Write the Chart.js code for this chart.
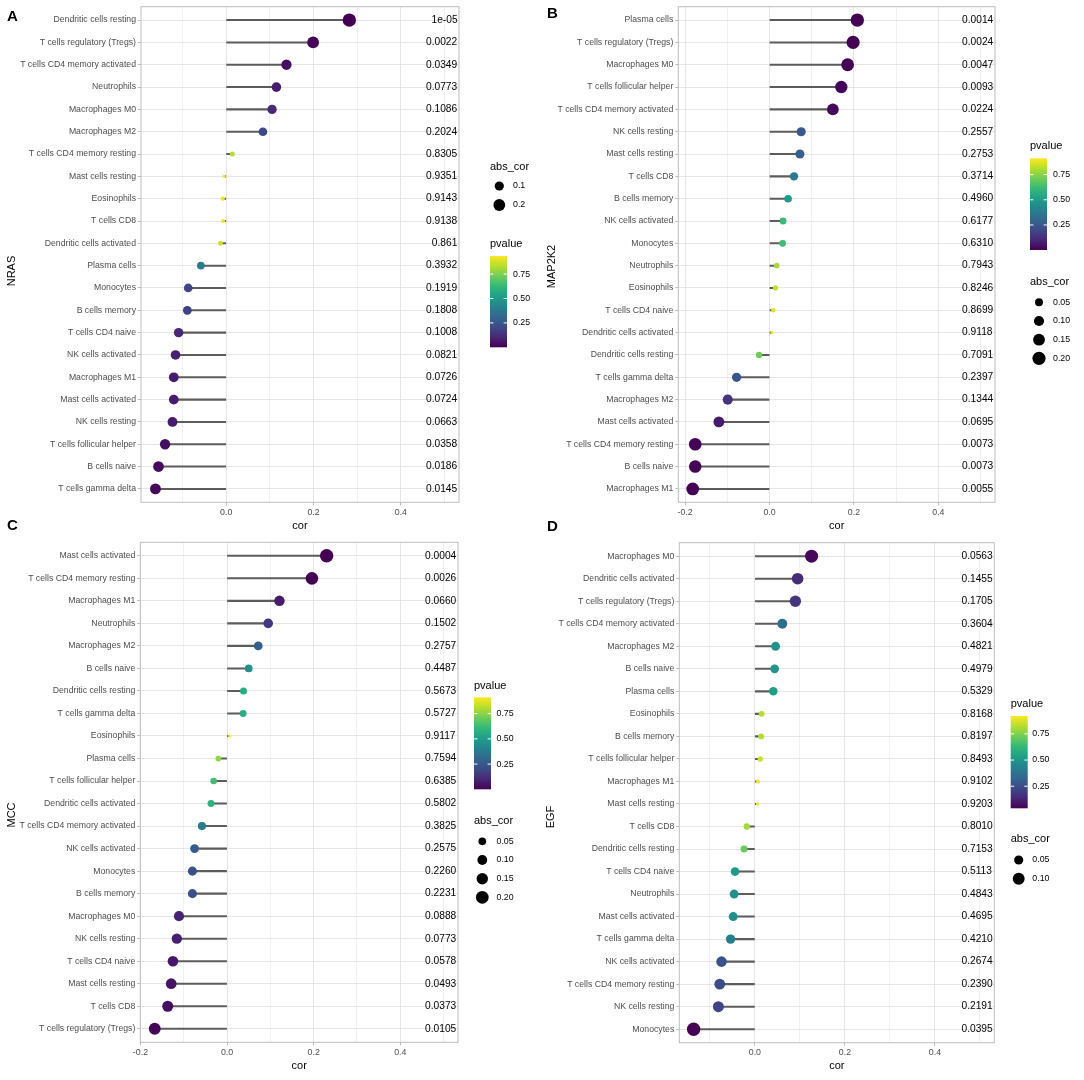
<!DOCTYPE html>
<html>
<head>
<meta charset="utf-8">
<script src="https://cdn.jsdelivr.net/npm/chart.js@4/dist/chart.umd.min.js"></script>
<style>
  html, body { margin: 0; padding: 0; background: #fff; }
  #wrap { position: relative; width: 1084px; height: 1080px; overflow: hidden; }
  #wrap canvas { position: absolute; }
</style>
</head>
<body>
<div id="wrap">
  <canvas id="pA"></canvas>
  <canvas id="pB"></canvas>
  <canvas id="pC"></canvas>
  <canvas id="pD"></canvas>
</div>
<script>
// ---- data ----
const catsA = ["Dendritic cells resting", "T cells regulatory (Tregs)", "T cells CD4 memory activated", "Neutrophils",
  "Macrophages M0", "Macrophages M2", "T cells CD4 memory resting", "Mast cells resting", "Eosinophils", "T cells CD8",
  "Dendritic cells activated", "Plasma cells", "Monocytes", "B cells memory", "T cells CD4 naive", "NK cells activated",
  "Macrophages M1", "Mast cells activated", "NK cells resting", "T cells follicular helper", "B cells naive", "T cells gamma delta"];
const corA = [0.282, 0.199, 0.138, 0.115, 0.105, 0.084, 0.014, -0.005, -0.008, -0.007, -0.013,
  -0.058, -0.087, -0.089, -0.109, -0.116, -0.120, -0.120, -0.123, -0.140, -0.155, -0.162];
const pA = ["1e-05", "0.0022", "0.0349", "0.0773", "0.1086", "0.2024", "0.8305", "0.9351", "0.9143", "0.9138", "0.861",
  "0.3932", "0.1919", "0.1808", "0.1008", "0.0821", "0.0726", "0.0724", "0.0663", "0.0358", "0.0186", "0.0145"];

const catsB = ["Plasma cells", "T cells regulatory (Tregs)", "Macrophages M0", "T cells follicular helper",
  "T cells CD4 memory activated", "NK cells resting", "Mast cells resting", "T cells CD8", "B cells memory",
  "NK cells activated", "Monocytes", "Neutrophils", "Eosinophils", "T cells CD4 naive", "Dendritic cells activated",
  "Dendritic cells resting", "T cells gamma delta", "Macrophages M2", "Mast cells activated",
  "T cells CD4 memory resting", "B cells naive", "Macrophages M1"];
const corB = [0.208, 0.198, 0.185, 0.170, 0.150, 0.075, 0.072, 0.058, 0.044, 0.032, 0.031,
  0.017, 0.014, 0.009, 0.006, -0.025, -0.078, -0.099, -0.120, -0.176, -0.176, -0.182];
const pB = ["0.0014", "0.0024", "0.0047", "0.0093", "0.0224", "0.2557", "0.2753", "0.3714", "0.4960", "0.6177", "0.6310",
  "0.7943", "0.8246", "0.8699", "0.9118", "0.7091", "0.2397", "0.1344", "0.0695", "0.0073", "0.0073", "0.0055"];

const catsC = ["Mast cells activated", "T cells CD4 memory resting", "Macrophages M1", "Neutrophils", "Macrophages M2",
  "B cells naive", "Dendritic cells resting", "T cells gamma delta", "Eosinophils", "Plasma cells",
  "T cells follicular helper", "Dendritic cells activated", "T cells CD4 memory activated", "NK cells activated",
  "Monocytes", "B cells memory", "Macrophages M0", "NK cells resting", "T cells CD4 naive", "Mast cells resting",
  "T cells CD8", "T cells regulatory (Tregs)"];
const corC = [0.230, 0.196, 0.121, 0.095, 0.072, 0.050, 0.038, 0.037, 0.006, -0.020, -0.031,
  -0.037, -0.058, -0.075, -0.080, -0.080, -0.111, -0.116, -0.125, -0.129, -0.137, -0.167];
const pC = ["0.0004", "0.0026", "0.0660", "0.1502", "0.2757", "0.4487", "0.5673", "0.5727", "0.9117", "0.7594", "0.6385",
  "0.5802", "0.3825", "0.2575", "0.2260", "0.2231", "0.0888", "0.0773", "0.0578", "0.0493", "0.0373", "0.0105"];

const catsD = ["Macrophages M0", "Dendritic cells activated", "T cells regulatory (Tregs)", "T cells CD4 memory activated",
  "Macrophages M2", "B cells naive", "Plasma cells", "Eosinophils", "B cells memory", "T cells follicular helper",
  "Macrophages M1", "Mast cells resting", "T cells CD8", "Dendritic cells resting", "T cells CD4 naive", "Neutrophils",
  "Mast cells activated", "T cells gamma delta", "NK cells activated", "T cells CD4 memory resting", "NK cells resting",
  "Monocytes"];
const corD = [0.126, 0.095, 0.090, 0.061, 0.046, 0.044, 0.041, 0.015, 0.014, 0.012, 0.007,
  0.006, -0.018, -0.024, -0.044, -0.046, -0.048, -0.054, -0.074, -0.078, -0.081, -0.136];
const pD = ["0.0563", "0.1455", "0.1705", "0.3604", "0.4821", "0.4979", "0.5329", "0.8168", "0.8197", "0.8493", "0.9102",
  "0.9203", "0.8010", "0.7153", "0.5113", "0.4843", "0.4695", "0.4210", "0.2674", "0.2390", "0.2191", "0.0395"];

const xTicks = [-0.2, -0.1, 0, 0.1, 0.2, 0.3, 0.4, 0.5];
const colourbarTicks = [0.25, 0.5, 0.75];
const TEXT_X = 0.5; // p-value labels sit at cor = 0.5

// ---- styling helpers ----
const FONT = '"Liberation Sans", Arial, Helvetica, sans-serif';
Chart.defaults.font.family = FONT;

const VIRIDIS = ["#440154", "#482878", "#3E4A89", "#31688E", "#26828E", "#1F9E89", "#35B779", "#6DCD59", "#B4DE2C", "#FDE725"];
const VIR_RGB = VIRIDIS.map((h) => [1, 3, 5].map((k) => parseInt(h.slice(k, k + 2), 16)));

function viridis(t) {
  t = Math.max(0, Math.min(1, t));
  const pos = t * (VIR_RGB.length - 1);
  const i = Math.min(Math.floor(pos), VIR_RGB.length - 2);
  const f = pos - i;
  const c = VIR_RGB[i].map((v, k) => Math.round(v + (VIR_RGB[i + 1][k] - v) * f));
  return `rgb(${c[0]},${c[1]},${c[2]})`;
}

const isMajor = (v) => Math.abs(Math.round(v * 10)) % 2 === 0;

function makePanel(id, cats, cor, pLabels, lay) {
  const canvas = document.getElementById(id);
  canvas.width = lay.w;
  canvas.height = lay.h;
  canvas.style.left = lay.ox + "px";
  canvas.style.top = lay.oy + "px";

  const pv = pLabels.map(Number);
  const pMin = Math.min(...pv), pMax = Math.max(...pv);
  const abs = cor.map(Math.abs);
  const aMin = Math.min(...abs), aMax = Math.max(...abs);
  const radius = (a) => 1.6 + 5.1 * Math.sqrt(Math.max(0, (a - aMin) / (aMax - aMin)));
  const colour = (p) => viridis((p - pMin) / (pMax - pMin));

  const lo = Math.min(0, ...cor), hi = TEXT_X;
  const ex = (hi - lo) * 0.05;
  const n = cats.length;

  const L = (x) => x - lay.ox, T = (y) => y - lay.oy;
  const plot = { l: L(lay.plot.l), r: L(lay.plot.r), t: T(lay.plot.t), b: T(lay.plot.b) };

  const deco = {
    id: "deco" + id,
    afterDatasetsDraw(chart) {
      const { ctx, chartArea: a, scales } = chart;
      ctx.save();
      ctx.beginPath();
      ctx.rect(a.left, a.top, a.right - a.left, a.bottom - a.top);
      ctx.clip();
      ctx.fillStyle = "#000";
      ctx.font = `10.2px ${FONT}`;
      ctx.textBaseline = "middle";
      const xt = scales.x.getPixelForValue(TEXT_X);
      pLabels.forEach((s, i) => {
        const y = scales.y.getPixelForValue(i);
        if (s.length >= 6) {
          ctx.textAlign = "left";
          ctx.fillText(s, xt - 18.5, y);
        } else {
          ctx.textAlign = "center";
          ctx.fillText(s, xt, y);
        }
      });
      ctx.restore();
    },
    afterDraw(chart) {
      const { ctx, chartArea: a } = chart;
      ctx.save();
      // panel border
      ctx.strokeStyle = "#bdbdbd";
      ctx.lineWidth = 1;
      ctx.strokeRect(a.left, a.top, a.right - a.left, a.bottom - a.top);

      // panel letter
      ctx.fillStyle = "#000";
      ctx.font = `bold 15px ${FONT}`;
      ctx.textAlign = "left";
      ctx.textBaseline = "middle";
      ctx.fillText(lay.letter, L(lay.letterX), T(lay.letterY));

      // axis titles
      ctx.font = `11px ${FONT}`;
      ctx.textAlign = "center";
      ctx.fillText("cor", (a.left + a.right) / 2, T(lay.xTitleY));
      ctx.save();
      ctx.translate(L(lay.yTitle[0]), T(lay.yTitle[1]));
      ctx.rotate(-Math.PI / 2);
      ctx.fillText(lay.gene, 0, 0);
      ctx.restore();

      // size legend
      const sl = lay.sizeLegend;
      ctx.textAlign = "left";
      ctx.font = `11px ${FONT}`;
      ctx.fillText("abs_cor", L(sl.x), T(sl.titleY));
      ctx.font = `8.8px ${FONT}`;
      sl.values.forEach((v, k) => {
        const y = T(sl.ys[k]);
        ctx.beginPath();
        ctx.fillStyle = "#000";
        ctx.arc(L(sl.dotX), y, radius(v), 0, Math.PI * 2);
        ctx.fill();
        ctx.fillText(v.toFixed(sl.digits), L(sl.labelX), y);
      });

      // colour legend
      const cl = lay.colourLegend;
      ctx.font = `11px ${FONT}`;
      ctx.fillStyle = "#000";
      ctx.fillText("pvalue", L(cl.x), T(cl.titleY));
      const bx = L(cl.x), by = T(cl.barY), bw = 17, bh = cl.barH;
      const grad = ctx.createLinearGradient(0, by + bh, 0, by);
      VIRIDIS.forEach((c, k) => grad.addColorStop(k / (VIRIDIS.length - 1), c));
      ctx.fillStyle = grad;
      ctx.fillRect(bx, by, bw, bh);
      ctx.font = `8.8px ${FONT}`;
      colourbarTicks.forEach((v) => {
        if (v < pMin || v > pMax) return;
        const y = by + bh - ((v - pMin) / (pMax - pMin)) * bh;
        ctx.strokeStyle = "#fff";
        ctx.lineWidth = 1;
        ctx.beginPath();
        ctx.moveTo(bx, y); ctx.lineTo(bx + bw * 0.2, y);
        ctx.moveTo(bx + bw * 0.8, y); ctx.lineTo(bx + bw, y);
        ctx.stroke();
        ctx.fillStyle = "#000";
        ctx.fillText(v.toFixed(2), L(cl.labelX), y);
      });
      ctx.restore();
    }
  };

  return new Chart(canvas, {
    type: "scatter",
    data: {
      datasets: [
        {
          type: "bar",
          indexAxis: "y",
          data: cor.map((v, i) => ({ x: [0, v], y: i })),
          backgroundColor: "#5c5c5c",
          borderWidth: 0,
          barThickness: 1.4,
          order: 2
        },
        {
          type: "scatter",
          data: cor.map((v, i) => ({ x: v, y: i })),
          pointRadius: (ctx) => radius(abs[ctx.dataIndex]),
          pointHoverRadius: (ctx) => radius(abs[ctx.dataIndex]),
          pointBackgroundColor: (ctx) => colour(pv[ctx.dataIndex]),
          pointBorderWidth: 0,
          order: 1
        }
      ]
    },
    options: {
      responsive: false,
      animation: false,
      events: [],
      layout: { padding: { top: plot.t, right: lay.w - plot.r, left: 0, bottom: 0 } },
      plugins: { legend: { display: false }, tooltip: { enabled: false } },
      scales: {
        x: {
          type: "linear",
          offset: false,
          min: lo - ex,
          max: hi + ex,
          afterFit: (s) => { s.height = lay.h - plot.b; },
          afterBuildTicks: (s) => {
            s.ticks = xTicks.filter((v) => v >= s.min && v <= s.max).map((v) => ({ value: v }));
          },
          ticks: {
            callback: (v) => (isMajor(v) ? v.toFixed(1) : ""),
            font: { size: 8.8 },
            color: "#4d4d4d",
            padding: 2,
            maxRotation: 0,
            autoSkip: false
          },
          grid: {
            offset: false,
            color: "#e3e3e3",
            lineWidth: (ctx) => (ctx.tick && isMajor(ctx.tick.value) ? 0.9 : 0.5),
            tickColor: (ctx) => (ctx.tick && isMajor(ctx.tick.value) ? "#b3b3b3" : "rgba(0,0,0,0)"),
            tickLength: 3
          },
          border: { display: false }
        },
        y: {
          type: "linear",
          offset: false,
          reverse: true,
          min: -0.6,
          max: n - 1 + 0.6,
          afterFit: (s) => { s.width = plot.l; s.paddingTop = 0; s.paddingBottom = 0; },
          afterBuildTicks: (s) => { s.ticks = cats.map((c, i) => ({ value: i })); },
          ticks: {
            callback: (v) => cats[v],
            font: { size: 8.7, lineHeight: 0.5 },
            color: "#4d4d4d",
            padding: 2,
            autoSkip: false
          },
          grid: { offset: false, color: "#e3e3e3", lineWidth: 0.9, tickColor: "#b3b3b3", tickLength: 3 },
          border: { display: false }
        }
      }
    },
    plugins: [deco]
  });
}

makePanel("pA", catsA, corA, pA, {
  ox: 0, oy: 0, w: 542, h: 540,
  plot: { l: 141, r: 459, t: 4.3, b: 502.3 },
  letter: "A", letterX: 7, letterY: 17,
  gene: "NRAS", yTitle: [12, 271], xTitleY: 525.5,
  sizeLegend: { x: 490, titleY: 166.7, dotX: 499.3, labelX: 513, values: [0.1, 0.2], digits: 1, ys: [186, 205] },
  colourLegend: { x: 490, titleY: 244, barY: 256, barH: 91.3, labelX: 513 }
});

makePanel("pB", catsB, corB, pB, {
  ox: 542, oy: 0, w: 542, h: 540,
  plot: { l: 678.3, r: 995, t: 4, b: 502.3 },
  letter: "B", letterX: 547, letterY: 14,
  gene: "MAP2K2", yTitle: [552, 266.5], xTitleY: 525.7,
  sizeLegend: { x: 1030, titleY: 281.7, dotX: 1039, labelX: 1053, values: [0.05, 0.1, 0.15, 0.2], digits: 2, ys: [302.3, 321, 339.7, 358.3] },
  colourLegend: { x: 1030, titleY: 146, barY: 158.3, barH: 91.7, labelX: 1053 }
});

makePanel("pC", catsC, corC, pC, {
  ox: 0, oy: 512, w: 542, h: 568,
  plot: { l: 140.3, r: 458, t: 542.3, b: 1042.3 },
  letter: "C", letterX: 7, letterY: 526,
  gene: "MCC", yTitle: [12, 815], xTitleY: 1065.7,
  sizeLegend: { x: 474, titleY: 820.7, dotX: 482.3, labelX: 496.5, values: [0.05, 0.1, 0.15, 0.2], digits: 2, ys: [841.3, 860, 878.7, 897.3] },
  colourLegend: { x: 474, titleY: 685.7, barY: 697.3, barH: 92, labelX: 496.5 }
});

makePanel("pD", catsD, corD, pD, {
  ox: 542, oy: 512, w: 542, h: 568,
  plot: { l: 679.3, r: 994.3, t: 542.7, b: 1042.7 },
  letter: "D", letterX: 547, letterY: 527,
  gene: "EGF", yTitle: [551, 817], xTitleY: 1065.7,
  sizeLegend: { x: 1010.7, titleY: 839.3, dotX: 1018.7, labelX: 1032.3, values: [0.05, 0.1], digits: 2, ys: [860, 878.7] },
  colourLegend: { x: 1010.7, titleY: 704.3, barY: 716, barH: 92.3, labelX: 1032.3 }
});
</script>
</body>
</html>
